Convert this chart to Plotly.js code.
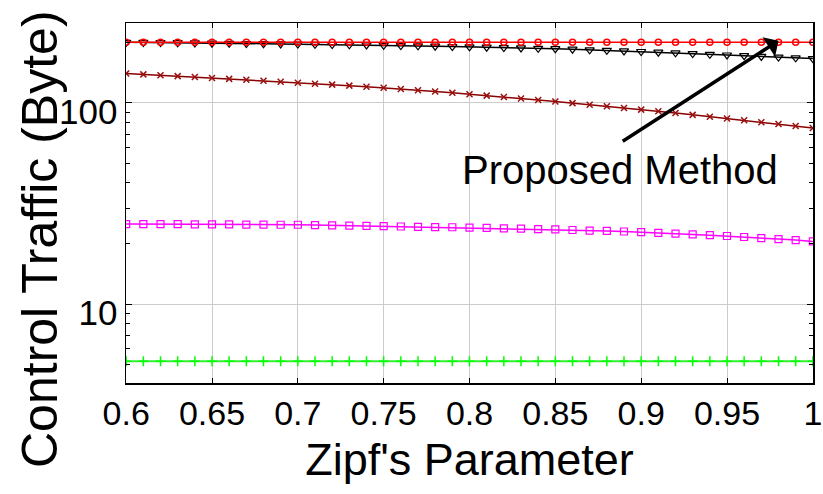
<!DOCTYPE html>
<html>
<head>
<meta charset="utf-8">
<script src="https://cdn.plot.ly/plotly-3.0.1.min.js"></script>
<style>html,body{margin:0;padding:0;background:#fff;}#chart{width:823px;height:494px;}</style>
</head>
<body>
<div id="chart"></div>
<script>
const zipf = [0.60,0.61,0.62,0.63,0.64,0.65,0.66,0.67,0.68,0.69,0.70,0.71,0.72,0.73,0.74,0.75,0.76,0.77,0.78,0.79,0.80,0.81,0.82,0.83,0.84,0.85,0.86,0.87,0.88,0.89,0.90,0.91,0.92,0.93,0.94,0.95,0.96,0.97,0.98,0.99,1.00];
const proposed = [200,200,200,200,200,200,200,200,200,200,200,200,200,200,200,200,200,200,200,200,200,200,200,200,200,200,200,200,200,200,200,200,200,200,200,200,200,200,200,200,200];
const triSeries = [200,199.8,199.5,199.1,198.6,198,197.6,197.2,196.8,196.4,196,195.5,195,194.5,194,193.3,192.7,192,191.3,190.6,190,189.2,188.4,187.6,186.8,186,184.8,183.6,182.4,181.2,180,178.6,177.2,175.8,174.4,173,171.6,170.2,168.8,167.4,166];
const xSeries = [140,138.6,137.2,135.8,134.4,133,131.6,130.2,128.8,127.4,126,124.6,123.2,121.8,120.4,119,117.3,115.6,113.9,112.2,110.5,108.7,106.9,105.1,103.3,101.5,99.7,97.9,96.2,94.4,92.6,90.8,89,87.2,85.4,83.6,81.9,80.2,78.5,76.7,75];
const squareSeries = [25.0,25.0,25.0,24.95,24.9,24.9,24.9,24.85,24.85,24.8,24.8,24.7,24.6,24.55,24.5,24.4,24.3,24.2,24.15,24.1,24.0,23.9,23.8,23.7,23.6,23.5,23.35,23.2,23.1,22.95,22.8,22.6,22.4,22.2,22.0,21.8,21.55,21.3,21.05,20.8,20.5];
const plusSeries = [5.2,5.2,5.2,5.2,5.2,5.2,5.2,5.2,5.2,5.2,5.2,5.2,5.2,5.2,5.2,5.2,5.2,5.2,5.2,5.2,5.2,5.2,5.2,5.2,5.2,5.2,5.2,5.2,5.2,5.2,5.2,5.2,5.2,5.2,5.2,5.2,5.2,5.2,5.2,5.2,5.2];
const xTickVals = [0.6,0.65,0.7,0.75,0.8,0.85,0.9,0.95,1];
const xTickText = ['0.6','0.65','0.7','0.75','0.8','0.85','0.9','0.95','1'];
const yTickVals = [10,100];
const yTickText = ['10','100'];

const FONT = 'Arial, "Liberation Sans", sans-serif';

const traces = [
  {x: zipf, y: plusSeries, mode:'lines+markers', line:{color:'#33ee33', width:2},
   marker:{symbol:'cross-thin-open', size:7, color:'#00ff00', line:{width:1.5, color:'#00ff00'}}},
  {x: zipf, y: squareSeries, mode:'lines+markers', line:{color:'#ff00ff', width:1.5},
   marker:{symbol:'square-open', size:7, color:'#ff00ff', line:{width:1.2, color:'#ff00ff'}}},
  {x: zipf, y: xSeries, mode:'lines+markers', line:{color:'#8b0000', width:1.5},
   marker:{symbol:'x-thin-open', size:6, color:'#9b1010', line:{width:1.5, color:'#9b1010'}}},
  {x: zipf, y: triSeries, mode:'lines+markers', line:{color:'#000000', width:1.5},
   marker:{symbol:'triangle-down-open', size:8, color:'#000000', line:{width:1.2, color:'#000000'}}},
  {x: zipf, y: proposed, mode:'lines+markers', line:{color:'#ff0000', width:1.5},
   marker:{symbol:'circle-open', size:6, color:'#ff0000', line:{width:1.5, color:'#ff0000'}}}
];

const layout = {
  width: 823, height: 494,
  margin: {l:126, r:10, t:23, b:111},
  paper_bgcolor:'#ffffff', plot_bgcolor:'#ffffff',
  showlegend: false,
  font: {family: FONT, color:'#000'},
  xaxis: {
    range: [0.5999, 1.0001],
    tickvals: xTickVals, ticktext: xTickText,
    ticks: 'inside', ticklen: 5, tickcolor:'#000',
    ticklabeloverflow: 'allow',
    showgrid: true, gridcolor:'#cccccc', gridwidth:1,
    showline: true, linecolor:'#000', linewidth:1.5, mirror:'ticks',
    zeroline: false,
    tickfont: {size:34, family: FONT, color:'#000'},
    title: {text:"Zipf's Parameter", font:{size:45, family: FONT, color:'#000'}, standoff: 12}
  },
  yaxis: {
    type: 'log',
    range: [0.608, 2.397],
    tickvals: yTickVals, ticktext: yTickText,
    ticks: 'inside', ticklen: 6, tickcolor:'#000',
    ticklabelshift: 9,
    minor: {ticks:'inside', ticklen:4, tickcolor:'#000', showgrid:false, dtick:'D1'},
    showgrid: true, gridcolor:'#cccccc', gridwidth:1,
    showline: true, linecolor:'#000', linewidth:1.5, mirror:'ticks',
    zeroline: false,
    tickfont: {size:35, family: FONT, color:'#000'}
  },
  annotations: [
    {xref:'paper', yref:'paper', x:-0.1252, y:0.40, xanchor:'center', yanchor:'middle',
     text:'Control Traffic (Byte)', textangle:-90, showarrow:false,
     font:{size:50, family: FONT, color:'#000'}},
    {xref:'x', yref:'y', x:0.98, y:2.309, axref:'x', ayref:'y', ax:0.8884, ay:1.8047,
     text:'', showarrow:true, arrowhead:1, arrowsize:1.1, arrowwidth:3.5, arrowcolor:'#000', standoff:0},
    {xref:'x', yref:'y', x:0.8875, y:1.669, xanchor:'center', yanchor:'middle',
     text:'Proposed Method', showarrow:false, font:{size:40, family: FONT, color:'#000'}}
  ]
};

Plotly.newPlot('chart', traces, layout, {displayModeBar:false, staticPlot:true});
</script>
</body>
</html>
